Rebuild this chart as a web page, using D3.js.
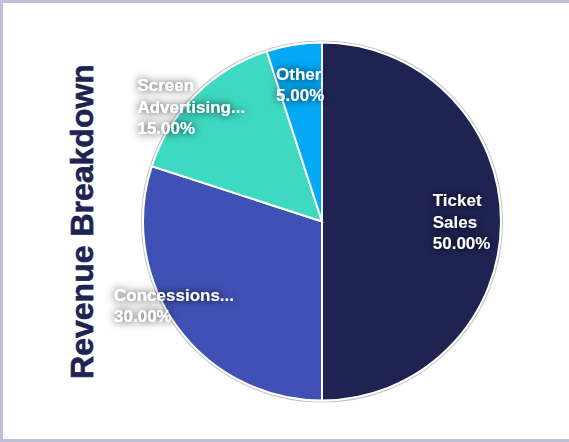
<!DOCTYPE html>
<html>
<head>
<meta charset="utf-8">
<script src="https://cdn.jsdelivr.net/npm/d3@7.9.0/dist/d3.min.js"></script>
<style>
  html, body { margin: 0; padding: 0; background: #fff; }
  svg { display: block; }
</style>
</head>
<body>
<svg id="chart"></svg>
<script>
// data
const categories = ['Ticket Sales', 'Concessions', 'Screen Advertising', 'Other'];
const shares = [50, 30, 15, 5];
const labelLines = [
  ['Ticket', 'Sales'],
  ['Concessions...'],
  ['Screen', 'Advertising...'],
  ['Other']
];
const colors = ['#1e2352', '#3f51b5', '#3dd9c1', '#03a9f4'];

// label nudges (layout only)
const labelNudge = [[0, 0], [-35, 2], [-32, -16], [0, 1]];

const width = 569;
const height = 442;
const cx = 322;
const cy = 221.5;
const radius = 179;

const svg = d3.select('#chart')
  .attr('width', width)
  .attr('height', height);

// frame
svg.append('rect')
  .attr('x', 1.5)
  .attr('y', 1.5)
  .attr('width', width + 10)
  .attr('height', height - 3)
  .attr('fill', '#fff')
  .attr('stroke', '#bcc0dc')
  .attr('stroke-width', 3);

const defs = svg.append('defs');
const shadow = defs.append('filter')
  .attr('id', 'txtshadow')
  .attr('x', '-30%').attr('y', '-40%')
  .attr('width', '160%').attr('height', '180%');
shadow.append('feDropShadow')
  .attr('dx', 0)
  .attr('dy', 0)
  .attr('stdDeviation', 4)
  .attr('flood-color', '#000')
  .attr('flood-opacity', 0.9);

// title
svg.append('text')
  .attr('transform', `translate(93,${cy}) rotate(-90)`)
  .attr('text-anchor', 'middle')
  .attr('font-family', 'Liberation Sans, Arial, sans-serif')
  .attr('font-weight', 'bold')
  .attr('font-size', 32)
  .attr('fill', '#1e2352')
  .attr('stroke', '#1e2352')
  .attr('stroke-width', 0.6)
  .text('Revenue Breakdown');

const pieData = d3.pie()
  .sort(null)
  .value((d) => d)(shares);

const arc = d3.arc()
  .innerRadius(0)
  .outerRadius(radius);

const labelArc = d3.arc()
  .innerRadius(radius * 0.78)
  .outerRadius(radius * 0.78);

const g = svg.append('g')
  .attr('transform', `translate(${cx},${cy})`);

// faint outline around the pie
g.append('circle')
  .attr('r', radius + 1.5)
  .attr('fill', 'none')
  .attr('stroke', '#c4c4c4')
  .attr('stroke-width', 1.2);

g.selectAll('path')
  .data(pieData)
  .join('path')
  .attr('d', arc)
  .attr('fill', (d, i) => colors[i])
  .attr('stroke', '#fff')
  .attr('stroke-width', 2);

// labels
const lineHeight = 21.5;
const fmt = (v) => (v / d3.sum(shares) * 100).toFixed(2) + '%';

pieData.forEach((d, i) => {
  const [lx, ly] = labelArc.centroid(d);
  const lines = [...labelLines[i], fmt(d.value)];

  const text = g.append('text')
    .attr('font-family', 'Liberation Sans, Arial, sans-serif')
    .attr('font-weight', 'bold')
    .attr('font-size', 17)
    .attr('fill', '#fff')
    .attr('filter', 'url(#txtshadow)');

  lines.forEach((line) => {
    text.append('tspan').text(line);
  });

  const maxW = d3.max(text.selectAll('tspan').nodes(), (n) => n.getComputedTextLength());
  const x0 = lx - maxW / 2 + labelNudge[i][0];
  const blockH = (lines.length - 1) * lineHeight;
  const y0 = ly - blockH / 2 + 6 + labelNudge[i][1];

  text.selectAll('tspan')
    .attr('x', x0)
    .attr('y', (t, j) => y0 + j * lineHeight);
});
</script>
</body>
</html>
